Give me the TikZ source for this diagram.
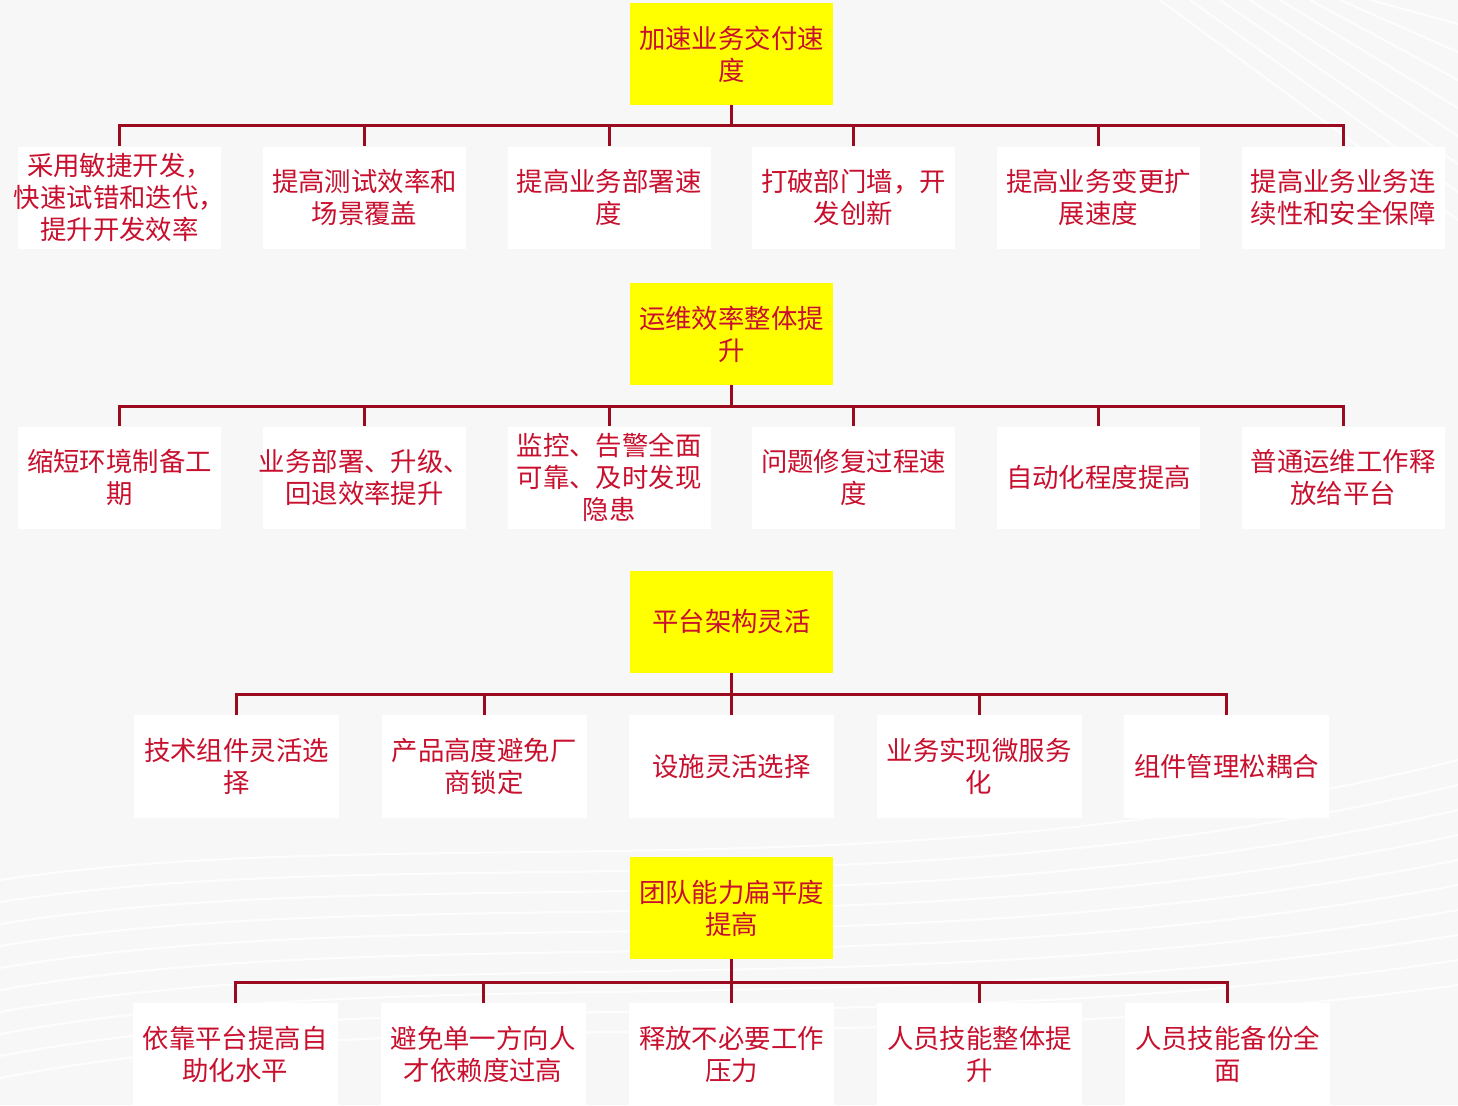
\documentclass[tikz,border=0pt]{standalone}
\usepackage{fontspec}
\newfontfamily\cjk{Noto Sans CJK SC}
\definecolor{txtred}{HTML}{C8102E}
\definecolor{linered}{HTML}{9B0A1E}
\definecolor{bg}{HTML}{F7F7F7}
\definecolor{hl}{HTML}{FFFF00}
\tikzset{
  base/.style={inner ysep=0pt, inner xsep=-15pt, text=txtred, align=center,
    font=\cjk\fontsize{26.4}{32}\selectfont},
  rootbox/.style={base, fill=hl, minimum width=203pt, minimum height=102pt},
  leafbox/.style={base, fill=white, minimum width=203pt, minimum height=102pt},
  leafboxw/.style={base, fill=white, minimum width=205pt, minimum height=103pt},
  conn/.style={draw=linered, line width=3pt}
}
\begin{document}
\begin{tikzpicture}[x=1pt,y=-1pt]
\fill[bg] (0,0) rectangle (1458,1105);
\useasboundingbox (0,0) rectangle (1458,1105);
% faint background streaks
\foreach \i in {0,...,9}{
  \draw[white, line width=2pt, opacity=0.8] (0,880+\i*22) .. controls (400,820+\i*20) and (900,900+\i*18) .. (1458,760+\i*25);
}
\foreach \i in {0,...,7}{
  \draw[white, line width=2pt, opacity=0.8] (1160+\i*30,0) -- (1458,220-\i*28);
}

% ===== Group 1 =====
\node[rootbox] (r1) at (731.5,54) {加速业务交付速\\度};
\coordinate (b1) at (731.5,126);
\node[leafbox] (c11) at (119.5,197.5) {采用敏捷开发，\\快速试错和迭代，\\提升开发效率};
\node[leafbox] (c12) at (364.5,197.5) {提高测试效率和\\场景覆盖};
\node[leafbox] (c13) at (609,197.5) {提高业务部署速\\度};
\node[leafbox] (c14) at (853.5,197.5) {打破部门墙，开\\发创新};
\node[leafbox] (c15) at (1098.5,197.5) {提高业务变更扩\\展速度};
\node[leafbox] (c16) at (1343,197.5) {提高业务业务连\\续性和安全保障};
\draw[conn] (r1.south) -- (b1);
\foreach \c in {c11,c12,c13,c14,c15,c16}{
  \draw[conn] (b1) -| (\c.north);
}

% ===== Group 2 =====
\node[rootbox] (r2) at (731.5,334) {运维效率整体提\\升};
\coordinate (b2) at (731.5,406);
\node[leafbox] (c21) at (119.5,477.5) {缩短环境制备工\\期};
\node[leafbox] (c22) at (364.5,477.5) {业务部署、升级、\\回退效率提升};
\node[leafbox] (c23) at (609,477.5) {监控、告警全面\\可靠、及时发现\\隐患};
\node[leafbox] (c24) at (853.5,477.5) {问题修复过程速\\度};
\node[leafbox] (c25) at (1098.5,477.5) {自动化程度提高};
\node[leafbox] (c26) at (1343,477.5) {普通运维工作释\\放给平台};
\draw[conn] (r2.south) -- (b2);
\foreach \c in {c21,c22,c23,c24,c25,c26}{
  \draw[conn] (b2) -| (\c.north);
}

% ===== Group 3 =====
\node[rootbox] (r3) at (731.5,621.5) {平台架构灵活};
\coordinate (b3) at (731.5,694);
\node[leafboxw] (c31) at (236.5,766.5) {技术组件灵活选\\择};
\node[leafboxw] (c32) at (484,766.5) {产品高度避免厂\\商锁定};
\node[leafboxw] (c33) at (731.5,766.5) {设施灵活选择};
\node[leafboxw] (c34) at (979,766.5) {业务实现微服务\\化};
\node[leafboxw] (c35) at (1226.5,766.5) {组件管理松耦合};
\draw[conn] (r3.south) -- (b3);
\foreach \c in {c31,c32,c33,c34,c35}{
  \draw[conn] (b3) -| (\c.north);
}

% ===== Group 4 =====
\node[rootbox] (r4) at (731.5,908) {团队能力扁平度\\提高};
\coordinate (b4) at (731.5,982);
\node[leafboxw] (c41) at (235,1054.5) {依靠平台提高自\\助化水平};
\node[leafboxw] (c42) at (483,1054.5) {避免单一方向人\\才依赖度过高};
\node[leafboxw] (c43) at (731.5,1054.5) {释放不必要工作\\压力};
\node[leafboxw] (c44) at (979.5,1054.5) {人员技能整体提\\升};
\node[leafboxw] (c45) at (1227.5,1054.5) {人员技能备份全\\面};
\draw[conn] (r4.south) -- (b4);
\foreach \c in {c41,c42,c43,c44,c45}{
  \draw[conn] (b4) -| (\c.north);
}
\end{tikzpicture}
\end{document}
